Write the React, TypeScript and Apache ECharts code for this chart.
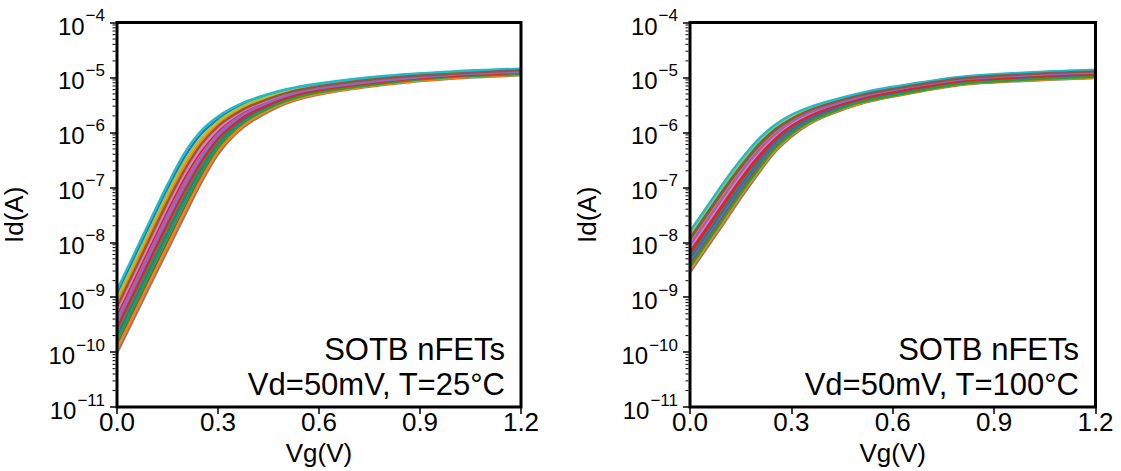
import React, { useEffect, useRef } from 'react';
import * as echarts from 'echarts';

// Gate voltage sample points (V)
const vg = [0, 0.1, 0.15, 0.2, 0.25, 0.3, 0.35, 0.4, 0.5, 0.6, 0.8, 1.0, 1.2];

// log10 of Id (A) (T = 25 °C), one array per device
const d25_01 = [-8.95, -7.66, -7.03, -6.46, -6.03, -5.76, -5.56, -5.43, -5.24, -5.12, -4.98, -4.90, -4.85];
const d25_02 = [-9.10, -7.82, -7.19, -6.61, -6.16, -5.85, -5.63, -5.48, -5.27, -5.15, -5.00, -4.92, -4.86];
const d25_03 = [-9.64, -8.37, -7.75, -7.15, -6.60, -6.17, -5.87, -5.67, -5.39, -5.24, -5.08, -4.98, -4.92];
const d25_04 = [-9.33, -8.06, -7.43, -6.84, -6.35, -5.99, -5.73, -5.56, -5.32, -5.19, -5.03, -4.94, -4.89];
const d25_05 = [-9.48, -8.22, -7.59, -6.99, -6.48, -6.08, -5.80, -5.61, -5.36, -5.22, -5.06, -4.96, -4.90];
const d25_06 = [-9.87, -8.61, -7.99, -7.38, -6.79, -6.31, -5.97, -5.75, -5.45, -5.28, -5.11, -5.00, -4.94];
const d25_07 = [-9.25, -7.98, -7.35, -6.76, -6.29, -5.94, -5.70, -5.53, -5.31, -5.18, -5.02, -4.93, -4.88];
const d25_08 = [-10.02, -8.77, -8.15, -7.53, -6.92, -6.40, -6.04, -5.80, -5.48, -5.31, -5.13, -5.02, -4.96];
const d25_09 = [-9.02, -7.74, -7.11, -6.53, -6.10, -5.80, -5.60, -5.45, -5.26, -5.14, -4.99, -4.91, -4.86];
const d25_10 = [-8.87, -7.58, -6.95, -6.38, -5.97, -5.71, -5.53, -5.40, -5.22, -5.11, -4.97, -4.89, -4.84];
const d25_11 = [-9.71, -8.45, -7.83, -7.22, -6.67, -6.22, -5.90, -5.69, -5.41, -5.26, -5.09, -4.99, -4.93];
const d25_12 = [-9.94, -8.69, -8.07, -7.45, -6.86, -6.35, -6.01, -5.77, -5.46, -5.30, -5.12, -5.01, -4.95];
const d25_13 = [-9.79, -8.53, -7.91, -7.30, -6.73, -6.26, -5.94, -5.72, -5.43, -5.27, -5.10, -4.99, -4.94];
const d25_14 = [-9.56, -8.29, -7.67, -7.07, -6.54, -6.12, -5.84, -5.64, -5.38, -5.23, -5.07, -4.97, -4.91];
const d25_15 = [-9.41, -8.14, -7.51, -6.92, -6.41, -6.03, -5.77, -5.59, -5.34, -5.20, -5.05, -4.95, -4.90];
const d25_16 = [-9.18, -7.90, -7.27, -6.69, -6.22, -5.89, -5.67, -5.51, -5.29, -5.16, -5.01, -4.93, -4.87];

// log10 of Id (A) (T = 100 °C), one array per device
const d100_01 = [-7.90, -7.01, -6.59, -6.22, -5.94, -5.73, -5.59, -5.48, -5.32, -5.19, -5.01, -4.93, -4.88];
const d100_02 = [-8.00, -7.11, -6.69, -6.31, -6.00, -5.79, -5.63, -5.52, -5.34, -5.22, -5.03, -4.95, -4.90];
const d100_03 = [-8.25, -7.36, -6.92, -6.52, -6.17, -5.92, -5.74, -5.61, -5.41, -5.28, -5.08, -5.00, -4.95];
const d100_04 = [-8.15, -7.26, -6.83, -6.43, -6.10, -5.87, -5.69, -5.57, -5.38, -5.25, -5.06, -4.98, -4.93];
const d100_05 = [-8.35, -7.46, -7.01, -6.60, -6.24, -5.97, -5.78, -5.64, -5.44, -5.30, -5.10, -5.02, -4.97];
const d100_06 = [-8.40, -7.51, -7.06, -6.64, -6.27, -6.00, -5.80, -5.66, -5.45, -5.31, -5.11, -5.03, -4.98];
const d100_07 = [-8.10, -7.21, -6.78, -6.39, -6.07, -5.84, -5.67, -5.55, -5.37, -5.24, -5.05, -4.97, -4.92];
const d100_08 = [-8.55, -7.66, -7.20, -6.77, -6.37, -6.08, -5.86, -5.71, -5.49, -5.35, -5.14, -5.06, -5.01];
const d100_09 = [-7.85, -6.96, -6.55, -6.18, -5.90, -5.71, -5.57, -5.47, -5.30, -5.18, -5.00, -4.92, -4.87];
const d100_10 = [-7.80, -6.91, -6.50, -6.14, -5.87, -5.68, -5.55, -5.45, -5.29, -5.17, -4.99, -4.91, -4.86];
const d100_11 = [-8.30, -7.41, -6.97, -6.56, -6.20, -5.95, -5.76, -5.62, -5.42, -5.29, -5.09, -5.01, -4.96];
const d100_12 = [-8.50, -7.61, -7.15, -6.73, -6.34, -6.05, -5.84, -5.69, -5.48, -5.34, -5.13, -5.05, -5.00];
const d100_13 = [-8.45, -7.56, -7.11, -6.69, -6.30, -6.03, -5.82, -5.68, -5.46, -5.33, -5.12, -5.04, -4.99];
const d100_14 = [-8.20, -7.31, -6.87, -6.48, -6.14, -5.89, -5.72, -5.59, -5.40, -5.27, -5.07, -4.99, -4.94];
const d100_15 = [-8.05, -7.16, -6.73, -6.35, -6.04, -5.81, -5.65, -5.54, -5.36, -5.23, -5.04, -4.96, -4.91];
const d100_16 = [-7.95, -7.06, -6.64, -6.27, -5.97, -5.76, -5.61, -5.50, -5.33, -5.21, -5.02, -4.94, -4.89];

const devices25 = [d25_01, d25_02, d25_03, d25_04, d25_05, d25_06, d25_07, d25_08, d25_09, d25_10, d25_11, d25_12, d25_13, d25_14, d25_15, d25_16];
const devices100 = [d100_01, d100_02, d100_03, d100_04, d100_05, d100_06, d100_07, d100_08, d100_09, d100_10, d100_11, d100_12, d100_13, d100_14, d100_15, d100_16];

const colors = ['#1f77b4', '#ff7f0e', '#2ca02c', '#d62728', '#9467bd', '#8c564b', '#e377c2', '#7f7f7f', '#bcbd22', '#17becf'];
const xTicks = [0, 0.3, 0.6, 0.9, 1.2];
const yMin = 1e-11;
const yMax = 1e-4;
const noteLine1 = ['SOTB nFETs', 'SOTB nFETs'];
const noteLine2 = ['Vd=50mV, T=25°C', 'Vd=50mV, T=100°C'];
const xName = 'Vg(V)';
const yName = 'Id(A)';

const FONT = '"Liberation Sans", Arial, Helvetica, sans-serif';

export default function App() {
  const ref = useRef<HTMLDivElement>(null);
  useEffect(() => {
    if (!ref.current) return;
    const chart = echarts.init(ref.current, undefined, { renderer: 'svg' });

    const minorVals: number[][] = [];
    for (let e = -11; e <= -5; e++) {
      for (let m = 2; m <= 9; m++) minorVals.push([0, m * Math.pow(10, e)]);
    }

    const gridPos = [
      { left: 117, width: 404 },
      { left: 690, width: 405.5 },
    ];
    const grids = gridPos.map((g) => ({
      left: g.left,
      width: g.width,
      top: 22.5,
      height: 387,
      show: true,
      borderColor: '#000',
      borderWidth: 3,
      backgroundColor: 'transparent',
      z: 10,
    }));

    const xAxes = gridPos.map((_, i) => ({
      type: 'value',
      gridIndex: i,
      min: xTicks[0],
      max: xTicks[xTicks.length - 1],
      interval: 0.3,
      axisLine: { show: false },
      axisTick: { show: true, inside: false, length: 7, lineStyle: { color: '#000', width: 1.5 } },
      splitLine: { show: false },
      axisLabel: {
        color: '#000',
        fontSize: 26,
        fontFamily: FONT,
        margin: 2,
        formatter: (v: number) => v.toFixed(1),
      },
      name: xName,
      nameLocation: 'middle',
      nameGap: 27,
      nameTextStyle: { color: '#000', fontSize: 26, fontFamily: FONT },
      z: 11,
    }));

    const yAxes = gridPos.map((_, i) => ({
      type: 'log',
      logBase: 10,
      gridIndex: i,
      min: yMin,
      max: yMax,
      splitNumber: 7,
      axisLine: { show: false },
      axisTick: { show: true, inside: false, length: 7, lineStyle: { color: '#000', width: 1.5 } },
      splitLine: { show: false },
      axisLabel: {
        color: '#000',
        margin: 12,
        fontFamily: FONT,
        formatter: (v: number) => `{b|10}{s|\u2212${-Math.round(Math.log10(v))}}`,
        rich: {
          b: { fontSize: 24, fontFamily: FONT, color: '#000', verticalAlign: 'bottom' },
          s: { fontSize: 17, fontFamily: FONT, color: '#000', verticalAlign: 'top', padding: [0, 0, 14, 1] },
        },
      },
      name: yName,
      nameLocation: 'middle',
      nameGap: 90,
      nameTextStyle: { color: '#000', fontSize: 26, fontFamily: FONT },
      z: 11,
    }));

    const series: any[] = [];
    [devices25, devices100].forEach((devs, p) => {
      devs.forEach((arr, k) => {
        const c = colors[k % colors.length];
        series.push({
          type: 'line',
          xAxisIndex: p,
          yAxisIndex: p,
          data: vg.map((v, j) => [v, Math.pow(10, arr[j])]),
          symbol: 'none',
          showSymbol: false,
          smooth: 0.3,
          lineStyle: { width: 2.4, color: c },
          itemStyle: { color: c },
          z: 2,
          silent: true,
        });
      });
      series.push({
        type: 'custom',
        xAxisIndex: p,
        yAxisIndex: p,
        silent: true,
        clip: false,
        z: 12,
        data: minorVals,
        renderItem: (_params: any, api: any) => {
          const pt = api.coord([0, api.value(1)]);
          return {
            type: 'line',
            shape: { x1: pt[0] - 4.5, y1: pt[1], x2: pt[0] - 1.5, y2: pt[1] },
            style: { stroke: '#000', lineWidth: 1 },
          };
        },
      });
    });

    const noteRight = [505, 1079];
    const graphics: any[] = [];
    noteRight.forEach((x, i) => {
      graphics.push({
        type: 'text',
        z: 20,
        style: { text: noteLine1[i], x, y: 349, align: 'right', verticalAlign: 'middle', fontSize: 31, fontFamily: FONT, fill: '#000' },
      });
      graphics.push({
        type: 'text',
        z: 20,
        style: { text: noteLine2[i], x, y: 384, align: 'right', verticalAlign: 'middle', fontSize: 31, fontFamily: FONT, fill: '#000' },
      });
    });

    chart.setOption({
      animation: false,
      backgroundColor: '#fff',
      grid: grids,
      xAxis: xAxes,
      yAxis: yAxes,
      series,
      graphic: graphics,
    });
    return () => chart.dispose();
  }, []);

  return (
    <div
      ref={ref}
      style={{ position: 'fixed', left: 0, top: 0, width: 1121, height: 471, background: '#fff' }}
    />
  );
}
